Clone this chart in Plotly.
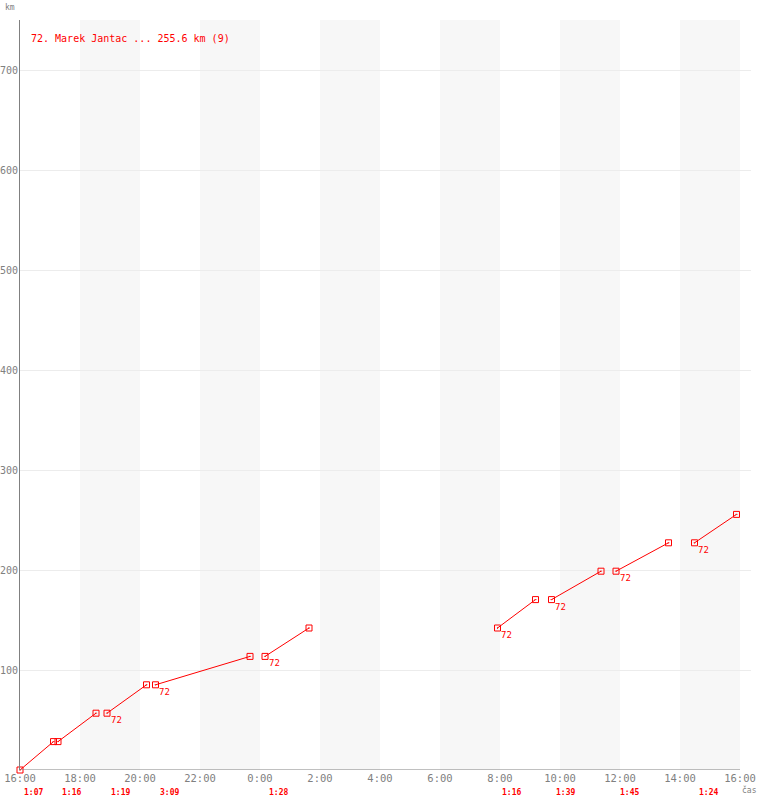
import plotly.graph_objects as go

# ---- data ----
rider_label = "72. Marek Jantac ... 255.6 km (9)"
rider_no = "72"
lap_starts = ["16:00", "17:16", "18:54", "20:31", "0:10", "7:55", "9:43", "11:52", "14:29"]
lap_durations = ["1:07", "1:16", "1:19", "3:09", "1:28", "1:16", "1:39", "1:45", "1:24"]
km_marks = [0, 28.4, 56.8, 85.2, 113.6, 142.0, 170.4, 198.8, 227.2, 255.6]
show_number = [False, False, True, True, True, True, True, True, True]
x_tick_labels = ["16:00", "18:00", "20:00", "22:00", "0:00", "2:00", "4:00", "6:00",
                 "8:00", "10:00", "12:00", "14:00", "16:00"]
y_ticks = [100, 200, 300, 400, 500, 600, 700]

RED = "#ff0000"
GRAY = "#808080"
MONO = "DejaVu Sans Mono"


def to_hours(s):
    h, m = s.split(":")
    return (int(h) + int(m) / 60.0 - 16) % 24


def dur_hours(s):
    h, m = s.split(":")
    return int(h) + int(m) / 60.0


xs, ys = [], []
for i, (st, du) in enumerate(zip(lap_starts, lap_durations)):
    x0 = to_hours(st)
    x1 = x0 + dur_hours(du)
    xs += [x0, x1, None]
    ys += [km_marks[i], km_marks[i + 1], None]

fig = go.Figure()
fig.add_trace(go.Scatter(
    x=xs, y=ys, mode="lines+markers",
    line=dict(color=RED, width=1),
    marker=dict(symbol="square-open-dot", size=6, color=RED, line=dict(color=RED, width=1)),
    hoverinfo="skip", showlegend=False, cliponaxis=False,
))

shapes = []
for k in range(6):
    a = 2 + 4 * k
    shapes.append(dict(type="rect", xref="x", yref="paper", x0=a, x1=a + 2, y0=0, y1=1,
                       fillcolor="#f7f7f7", line=dict(width=0), layer="below"))
shapes.append(dict(type="line", xref="x", yref="y", x0=0, x1=24, y0=0, y1=0,
                   line=dict(color=GRAY, width=1)))

annotations = [
    dict(text=rider_label, xref="paper", yref="paper", x=0.0125, y=0.976, xanchor="left",
         yanchor="middle", showarrow=False, font=dict(family=MONO, size=10, color=RED)),
    dict(text="km", xref="paper", yref="paper", x=-0.0235, y=1.0, xanchor="left", yanchor="bottom",
         yshift=6, showarrow=False, font=dict(family=MONO, size=8, color=GRAY)),
    dict(text="čas", xref="paper", yref="paper", x=1.0, y=0, xanchor="center", yanchor="top",
         xshift=-2, yshift=-13, showarrow=False, font=dict(family=MONO, size=8, color=GRAY)),
]
for v in y_ticks:
    annotations.append(dict(text=str(v), xref="paper", yref="y", x=0, y=v, xanchor="right",
                            yanchor="middle", xshift=-1, showarrow=False, borderpad=0,
                            font=dict(family=MONO, size=10, color=GRAY)))
for i, (st, du) in enumerate(zip(lap_starts, lap_durations)):
    x0 = to_hours(st)
    annotations.append(dict(text="<b>" + du + "</b>", xref="x", yref="paper", x=x0, y=0,
                            xanchor="left", yanchor="middle", xshift=2, yshift=-22,
                            showarrow=False, font=dict(family=MONO, size=8, color=RED)))
    if show_number[i]:
        annotations.append(dict(text=rider_no, xref="x", yref="y", x=x0, y=km_marks[i],
                                xanchor="left", yanchor="middle", xshift=1.5, yshift=-7,
                                showarrow=False, font=dict(family=MONO, size=9, color=RED)))

fig.update_layout(
    width=760, height=800,
    margin=dict(l=20, r=9, t=20, b=30, pad=0, autoexpand=False),
    paper_bgcolor="white", plot_bgcolor="white",
    shapes=shapes, annotations=annotations,
    xaxis=dict(range=[0, 24 + 11 / 30], tickvals=list(range(0, 25, 2)), ticktext=x_tick_labels,
               showgrid=False, zeroline=False, showline=False, ticks="", automargin=False,
               tickfont=dict(family=MONO, size=10.5, color=GRAY), fixedrange=True),
    yaxis=dict(range=[0, 750], tickvals=y_ticks, showgrid=True, gridcolor="#ececec", gridwidth=1,
               zeroline=False, showline=True, linecolor=GRAY, linewidth=1, ticks="",
               showticklabels=False, automargin=False, fixedrange=True),
    hovermode=False,
)

fig.write_html("out.html", config={"displayModeBar": False},
               post_script="document.body.style.margin='0';document.body.style.padding='0';")
